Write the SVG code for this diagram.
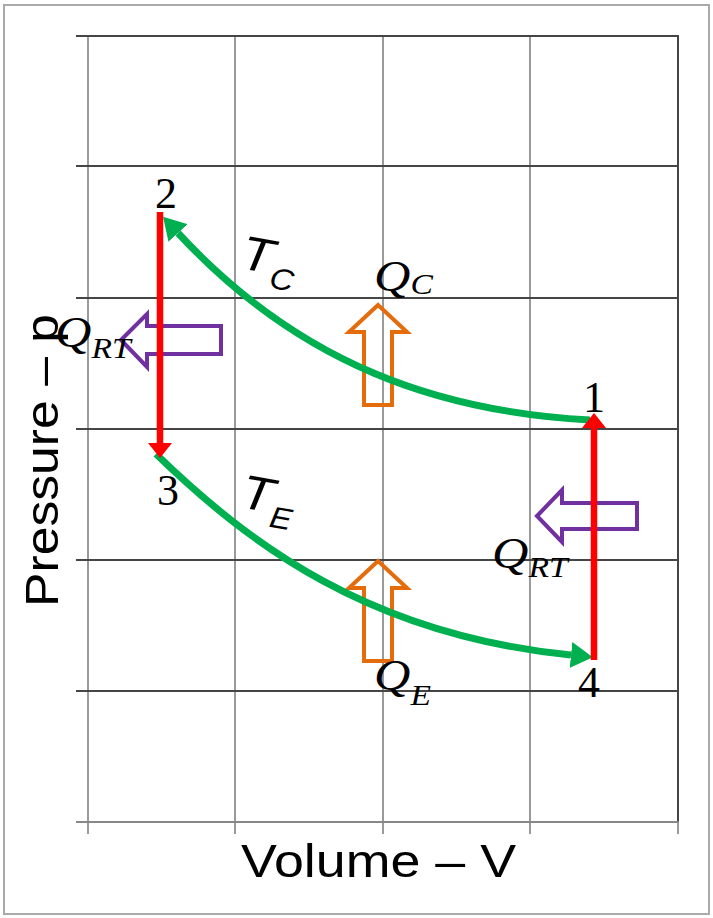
<svg xmlns="http://www.w3.org/2000/svg" width="713" height="918" viewBox="0 0 713 918">
<style>
.hl{stroke:#454545;stroke-width:2}
.vl{stroke:#9a9a9a;stroke-width:2}
.green{fill:none;stroke:#00b050;stroke-width:7}
.red{stroke:#ff0000;stroke-width:6.5}
.purple{fill:none;stroke:#7030a0;stroke-width:4}
.orange{fill:none;stroke:#e46c0a;stroke-width:4}
.num{font-family:"Liberation Serif",serif;font-size:44px;fill:#000;text-anchor:middle}
.q{font-family:"Liberation Serif",serif;font-style:italic;font-size:45px;fill:#000}
.t{font-family:"Liberation Sans",Arial,sans-serif;font-style:italic;font-size:48px;fill:#000}
.ax{font-family:"Liberation Sans",Arial,sans-serif;font-size:46px;fill:#000}
</style>
<defs>
<marker id="gh" markerUnits="userSpaceOnUse" markerWidth="22" markerHeight="26" viewBox="0 0 22 26" refX="0" refY="13" orient="auto"><path d="M0,0 L22,13 L0,26 z" fill="#00b050"/></marker>
<marker id="rh" markerUnits="userSpaceOnUse" markerWidth="15" markerHeight="24" viewBox="0 0 15 24" refX="0" refY="12" orient="auto"><path d="M0,0 L15,12 L0,24 z" fill="#ff0000"/></marker>
</defs>
<rect x="4" y="5" width="705" height="909" fill="#fff" stroke="#aaa" stroke-width="2"/>
<g id="grid">
<line class="vl" x1="88" y1="36" x2="88" y2="834"/>
<line class="vl" x1="235" y1="36" x2="235" y2="834"/>
<line class="vl" x1="383" y1="36" x2="383" y2="834"/>
<line class="vl" x1="530" y1="36" x2="530" y2="834"/>
<line class="vl" x1="678" y1="822" x2="678" y2="834"/>
<line class="hl" x1="678" y1="36" x2="678" y2="822"/>
<line class="hl" x1="76" y1="36" x2="679" y2="36"/>
<line class="hl" x1="76" y1="166" x2="679" y2="166"/>
<line class="hl" x1="76" y1="298" x2="679" y2="298"/>
<line class="hl" x1="76" y1="429" x2="679" y2="429"/>
<line class="hl" x1="76" y1="560" x2="679" y2="560"/>
<line class="hl" x1="76" y1="691" x2="679" y2="691"/>
<line x1="76" y1="822" x2="679" y2="822" stroke="#888" stroke-width="2"/>
</g>
<g id="axes">
<text class="ax" x="241" y="877" textLength="275" lengthAdjust="spacingAndGlyphs">Volume – V</text>
<text class="ax" transform="translate(58,607) rotate(-90)" x="0" y="0" textLength="293" lengthAdjust="spacingAndGlyphs">Pressure – p</text>
</g>
<g id="heat-arrows">
<polygon id="qrt-left-arrow" class="purple" points="121,340 147,314 147,326 221,326 221,354 147,354 147,367"/>
<polygon id="qrt-right-arrow" class="purple" points="537,516 562,490 562,503 637,503 637,529 562,529 562,542"/>
<polygon id="qc-arrow" class="orange" points="378,305 407,332 392,332 392,405 364,405 364,332 349,332"/>
<polygon id="qe-arrow" class="orange" points="378,561 407,588 392,588 392,661 364,661 364,588 349,588"/>
</g>
<g id="connectors">
<path class="green" d="M590 420 C440 412 300 365 178 233" marker-end="url(#gh)"/>
<path class="green" d="M156 454 C250 545 370 635 571 655" marker-end="url(#gh)"/>
<line class="red" x1="160" y1="212" x2="160" y2="443" marker-end="url(#rh)"/>
<line class="red" x1="594" y1="660" x2="594" y2="428" marker-end="url(#rh)"/>
</g>
<g id="n2"><text class="num" x="166" y="208">2</text></g>
<g id="n3"><text class="num" x="168" y="505">3</text></g>
<g id="n1"><text class="num" x="594" y="412">1</text></g>
<g id="n4"><text class="num" x="589" y="697">4</text></g>
<g id="tc"><text class="t" transform="translate(239,268) rotate(10) scale(1.1,1)">T<tspan font-size="30" dy="14">C</tspan></text></g>
<g id="te"><text class="t" transform="translate(239,507) rotate(10) scale(1.1,1)">T<tspan font-size="30" dy="14">E</tspan></text></g>
<g id="qc"><text class="q" transform="translate(374,291) scale(1.12,1)">Q<tspan font-size="30" dy="3">C</tspan></text></g>
<g id="qe"><text class="q" transform="translate(374,690) scale(1.12,1)">Q<tspan font-size="30" dy="15">E</tspan></text></g>
<g id="qrt-left"><text class="q" transform="translate(55,347) scale(1.12,1)">Q<tspan font-size="30" dy="11">RT</tspan></text></g>
<g id="qrt-right"><text class="q" transform="translate(492,568) scale(1.12,1)">Q<tspan font-size="30" dy="9">RT</tspan></text></g>
</svg>
